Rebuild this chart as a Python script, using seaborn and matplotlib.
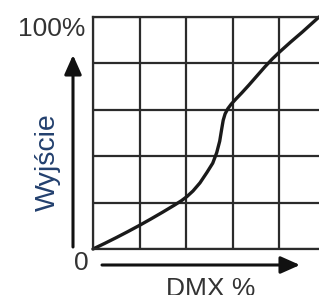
import matplotlib
matplotlib.use("Agg")
import matplotlib.pyplot as plt
import seaborn as sns
import pandas as pd
from matplotlib.patches import FancyArrowPatch

# Data (DMX % -> output %)
dmx = [0, 5, 10, 15, 20.2, 25, 30, 35, 38, 40.4, 43, 46, 49, 51.5, 53.2, 54.5, 55.4, 56,
       56.8, 58, 59.5, 61.5, 64, 67, 70.5, 74, 77, 80, 85, 90, 97.2]
out = [0, 2.4, 4.9, 7.5, 10.3, 13, 15.9, 18.9, 20.8, 22.6, 25, 28.5, 33, 37, 41.5, 46.5, 52, 55.5,
       58.2, 60.5, 62.5, 64.7, 67.3, 70.6, 74.6, 78.6, 81.8, 84.7, 89.2, 93.5, 100]
grid_ticks = [0, 20, 40, 60, 80, 100]
y_top_label = "100%"
y_bottom_label = "0"
x_label = "DMX %"
y_label = "Wyjście"

df = pd.DataFrame({"dmx": dmx, "out": out})

sns.set_style("white")
plt.rcParams["font.family"] = ["Liberation Sans", "DejaVu Sans"]

W, H = 319, 295
fig = plt.figure(figsize=(W / 100, H / 100), dpi=100)
ax = fig.add_axes([93 / W, 46 / H, 232.5 / W, 232 / H])

grid_col = "#2b2b2b"
ax.set_xlim(0, 100)
ax.set_ylim(0, 100)
ax.set_xticks(grid_ticks)
ax.set_yticks(grid_ticks)
ax.grid(True, color=grid_col, linewidth=1.6)
ax.tick_params(length=0, labelbottom=False, labelleft=False)
for s in ax.spines.values():
    s.set_color(grid_col)
    s.set_linewidth(1.6)

sns.lineplot(data=df, x="dmx", y="out", sort=False, ax=ax, color="#1a1a1a",
             linewidth=2.4, solid_capstyle="round", solid_joinstyle="round", clip_on=False)
ax.set_xlabel("")
ax.set_ylabel("")

def fx(px):
    return px / W

def fy(py):
    return (H - py) / H

style = "-|>,head_length=0.9,head_width=0.4"
fig.add_artist(FancyArrowPatch((fx(73), fy(247)), (fx(73), fy(55)), transform=fig.transFigure,
                               arrowstyle=style, mutation_scale=13, color="#111111",
                               linewidth=2.2, shrinkA=0, shrinkB=0))
fig.add_artist(FancyArrowPatch((fx(102), fy(265)), (fx(300), fy(265)), transform=fig.transFigure,
                               arrowstyle=style, mutation_scale=13, color="#111111",
                               linewidth=2.2, shrinkA=0, shrinkB=0))

txt_col = "#333333"
fig.text(fx(85), fy(29), y_top_label, ha="right", va="center", fontsize=19, color=txt_col)
fig.text(fx(81), fy(263), y_bottom_label, ha="center", va="center", fontsize=19, color=txt_col)
fig.text(fx(211), fy(277), x_label, ha="center", va="top", fontsize=19, color=txt_col)
fig.text(fx(48), fy(162), y_label, ha="center", va="center", rotation=90, fontsize=20.5,
         color="#23406e")

fig.savefig("out.png", dpi=100)
